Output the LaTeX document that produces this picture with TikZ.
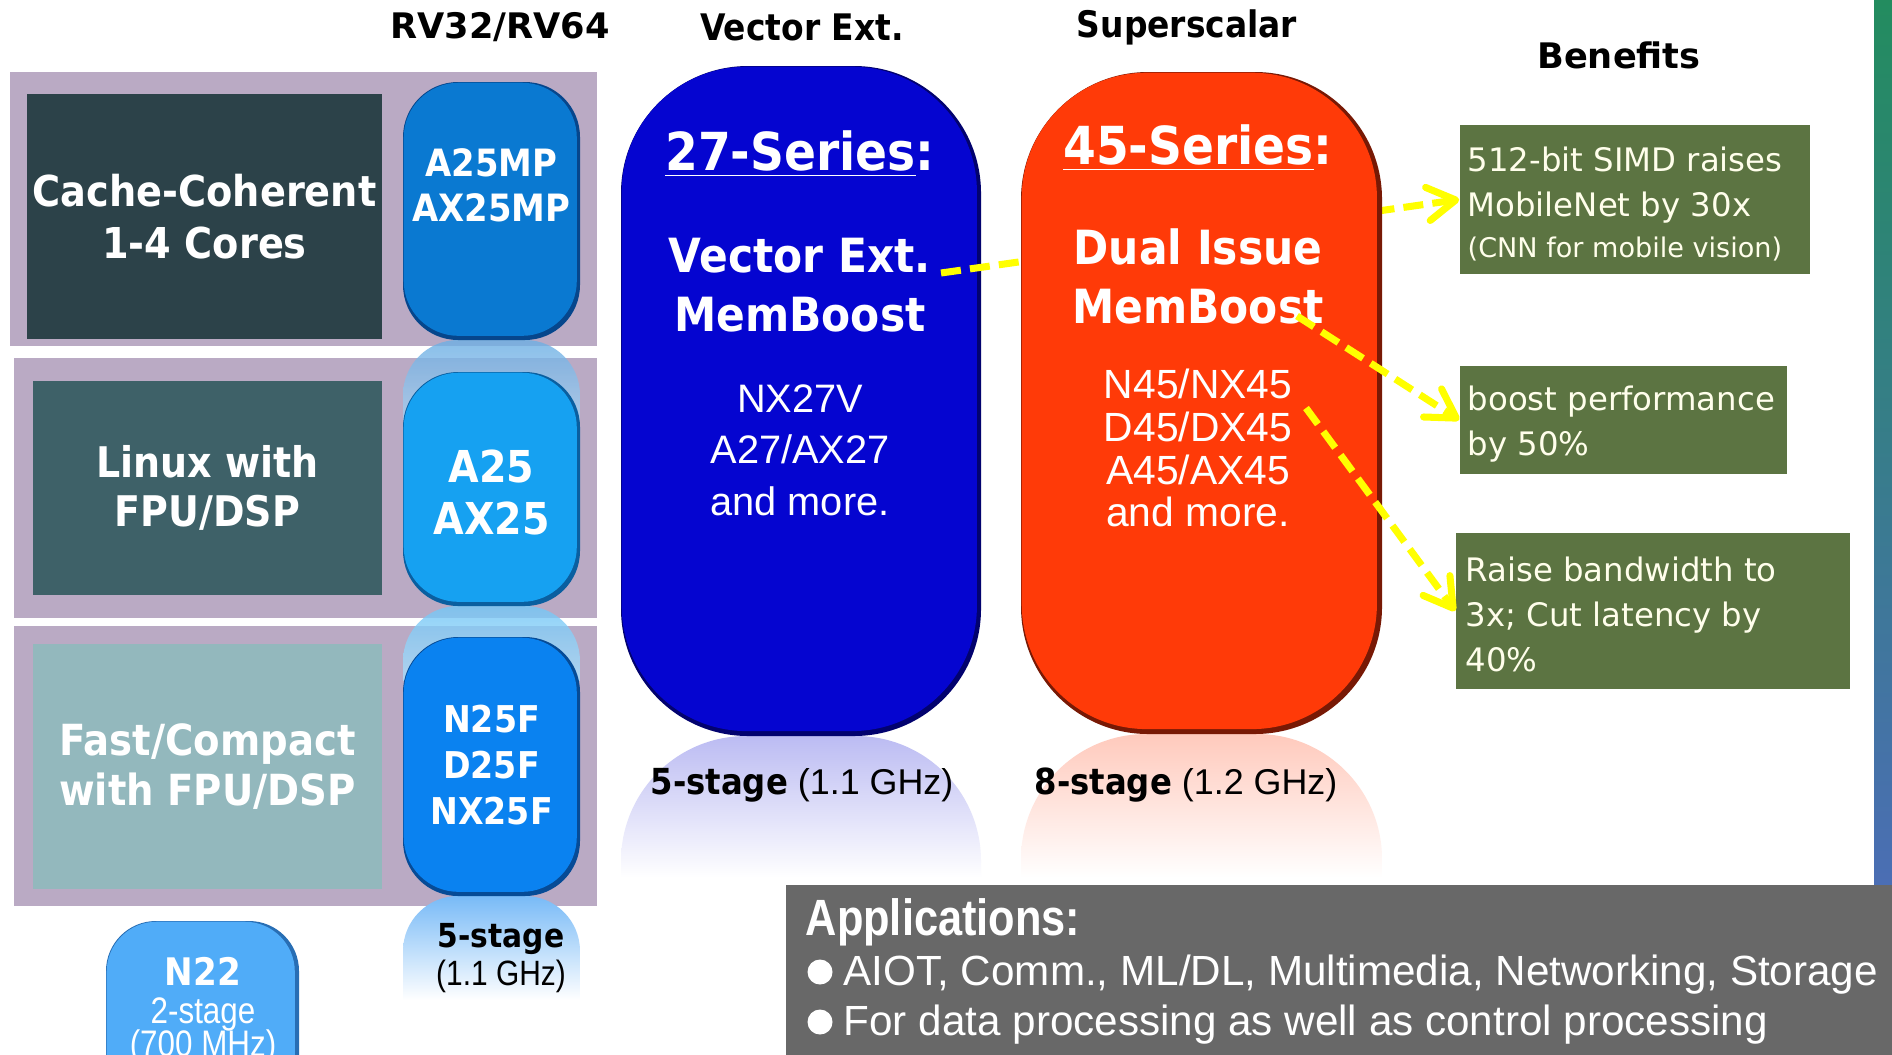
\documentclass[tikz,border=0pt]{standalone}
\usepackage{fontspec}
\setmainfont{Liberation Sans}
\newfontfamily\tah[FakeStretch=0.9]{DejaVu Sans}
\newfontfamily\verd{DejaVu Sans}
\newfontfamily\cnb[FakeStretch=0.85]{Liberation Sans}
\newfontfamily\cnr[FakeStretch=0.85]{Liberation Sans}
\usetikzlibrary{arrows.meta}
\definecolor{bandc}{RGB}{186,170,196}
\definecolor{boxa}{RGB}{44,66,73}
\definecolor{boxb}{RGB}{62,97,104}
\definecolor{boxc}{RGB}{147,184,189}
\definecolor{pilla}{RGB}{10,121,209}
\definecolor{pillad}{RGB}{6,70,140}
\definecolor{pillb}{RGB}{22,161,241}
\definecolor{pillbd}{RGB}{10,95,160}
\definecolor{pillc}{RGB}{10,130,240}
\definecolor{pillcd}{RGB}{6,75,150}
\definecolor{pilln}{RGB}{80,172,248}
\definecolor{pillnd}{RGB}{40,110,180}
\definecolor{vecb}{RGB}{5,5,208}
\definecolor{vecbd}{RGB}{2,2,110}
\definecolor{supo}{RGB}{255,58,8}
\definecolor{supod}{RGB}{120,25,5}
\definecolor{bengreen}{RGB}{92,116,66}
\definecolor{appgray}{RGB}{104,104,104}
\definecolor{yel}{RGB}{255,255,0}
\definecolor{bartop}{RGB}{35,140,95}
\definecolor{barmid}{RGB}{12,80,160}
\definecolor{barbot}{RGB}{75,110,180}
\begin{document}
\begin{tikzpicture}[x=0.01cm,y=-0.01cm,
  band/.style={fill=bandc},
  catbox/.style={text=white, align=center, inner sep=0pt, font=\tah\bfseries\fontsize{12}{14}\selectfont},
  smallpill/.style={rounded corners=0.55cm, inner sep=0pt, anchor=north west},
  pilltext/.style={text=white, align=center, inner sep=0pt, font=\tah\bfseries\fontsize{10.7}{12.8}\selectfont},
  bigpill/.style={rounded corners=1.25cm, inner sep=0pt, anchor=north west},
  bigtitle/.style={text=white, inner sep=0pt, font=\tah\bfseries\fontsize{14.9}{17}\selectfont},
  bigbold/.style={text=white, align=center, inner sep=0pt, font=\tah\bfseries\fontsize{13.4}{16.6}\selectfont},
  bigreg/.style={text=white, align=center, inner sep=0pt, font=\fontsize{11.3}{14.6}\selectfont},
  header/.style={inner sep=0pt, font=\verd\bfseries\fontsize{10}{12}\selectfont},
  cheader/.style={inner sep=0pt, font=\tah\bfseries\fontsize{10.4}{12}\selectfont},
  stage/.style={inner sep=0pt, text=black, font=\fontsize{10.2}{12}\selectfont},
  benbox/.style={fill=bengreen, inner sep=0pt},
  bentext/.style={text=white!92!yellow, align=left, anchor=west, inner sep=0pt, font=\verd\fontsize{9.2}{12.8}\selectfont},
  apptext/.style={anchor=west, inner sep=0pt, text=white, font=\fontsize{12}{14}\selectfont},
  appdot/.style={circle, fill=white, inner sep=0pt, minimum size=0.25cm},
  yarrow/.style={draw=yel, line width=2pt, dash pattern=on 5.7pt off 2.6pt, -{Straight Barb[length=8pt,width=9.5pt,round]}},
]
\useasboundingbox (0,0) rectangle (1892,1054);
\clip (0,0) rectangle (1892,1054);
\fill[white] (0,0) rectangle (1892,1054);

% headers
\node[header] (rv) at (500,27) {RV32/RV64};
\node[cheader] (vh) at (802,27) {Vector Ext.};
\node[cheader] (sh) at (1187,27) {Superscalar};
\node[header] (bh) at (1619,55) {Benefits};

% bands
\path[band] (10,72) rectangle (597,346);
\path[band] (14,358) rectangle (597,618);
\path[band] (14,626) rectangle (597,906);

% category boxes
\node[catbox, fill=boxa, minimum width=3.55cm, minimum height=2.45cm, font=\tah\bfseries\fontsize{12.1}{14.8}\selectfont] (cc) at (204.5,216.5) {Cache-Coherent\\1-4 Cores};
\node[catbox, fill=boxb, minimum width=3.49cm, minimum height=2.14cm] (lx) at (207.5,488) {Linux with\\FPU/DSP};
\node[catbox, fill=boxc, minimum width=3.49cm, minimum height=2.45cm, font=\tah\bfseries\fontsize{12.2}{14}\selectfont] (fc) at (207.5,766.5) {Fast/Compact\\with FPU/DSP};

% reflections of small pills
\begin{scope}
\clip[rounded corners=0.55cm] (403,340) rectangle (580,700);
\shade[top color=pilla!60!white, bottom color=pilla!35!white, opacity=0.8] (403,340) rectangle (580,420);
\end{scope}
\begin{scope}
\clip[rounded corners=0.55cm] (403,606) rectangle (580,900);
\shade[top color=pillb!60!white, bottom color=pillb!35!white, opacity=0.8] (403,606) rectangle (580,680);
\end{scope}
\begin{scope}
\clip[rounded corners=0.55cm] (403,896) rectangle (580,1200);
\shade[top color=pillc!55!white, bottom color=white] (403,896) rectangle (580,1000);
\end{scope}

% small pills
\fill[pillad, rounded corners=0.55cm] (403,82) rectangle (580,340);
\node[smallpill, fill=pilla, minimum width=1.73cm, minimum height=2.53cm] (p1) at (403,82) {};
\node[pilltext] (p1t) at (491.5,185) {A25MP\\AX25MP};

\fill[pillbd, rounded corners=0.55cm] (403,372) rectangle (580,606);
\node[smallpill, fill=pillb, minimum width=1.73cm, minimum height=2.29cm] (p2) at (403,372) {};
\node[pilltext, font=\tah\bfseries\fontsize{12.5}{15}\selectfont] (p2t) at (491.5,492.5) {A25\\AX25};

\fill[pillcd, rounded corners=0.55cm] (403,637) rectangle (580,896);
\node[smallpill, fill=pillc, minimum width=1.73cm, minimum height=2.54cm] (p3) at (403,637) {};
\node[pilltext, font=\tah\bfseries\fontsize{10.5}{13}\selectfont] (p3t) at (491.5,765) {N25F\\D25F\\NX25F};

\node[inner sep=0pt, font=\tah\bfseries\fontsize{9.4}{11}\selectfont] (st25) at (501,939) {5-stage};
\node[inner sep=0pt, font=\cnr\fontsize{10}{12}\selectfont] (st25b) at (501,976) {(1.1 GHz)};

% N22 pill
\fill[pillnd, rounded corners=0.5cm] (106,921) rectangle (299,1120);
\node[smallpill, rounded corners=0.5cm, fill=pilln, minimum width=1.88cm, minimum height=1.95cm] (n22) at (106,921) {};
\node[pilltext, font=\tah\bfseries\fontsize{10.8}{13}\selectfont] (n22t) at (203,971) {N22};
\node[inner sep=0pt, text=white, font=\cnr\fontsize{10.5}{12}\selectfont] (n22s) at (203,1014) {2-stage};
\node[inner sep=0pt, text=white, font=\cnr\fontsize{10.5}{12}\selectfont] (n22f) at (203,1047) {(700 MHz)};

% benefit boxes
\node[benbox, minimum width=3.5cm, minimum height=1.49cm] (b1) at (1635,199.5) {};
\node[bentext] (b1t) at (1467,204) {512-bit SIMD raises\\MobileNet by 30x\\[-1.2pt]{\fontsize{7.7}{9}\selectfont (CNN for mobile vision)}};
\node[benbox, minimum width=3.27cm, minimum height=1.08cm] (b2) at (1623.5,420) {};
\node[bentext] (b2t) at (1467,424) {boost performance\\by 50\%};
\node[benbox, minimum width=3.94cm, minimum height=1.56cm] (b3) at (1653,611) {};
\node[bentext] (b3t) at (1465,614) {Raise bandwidth to\\3x; Cut latency by\\40\%};

% big pill reflections
\begin{scope}
\clip[rounded corners=1.25cm] (621,736) rectangle (981,1200);
\shade[top color=vecb!27!white, bottom color=white] (621,736) rectangle (981,878);
\end{scope}
\begin{scope}
\clip[rounded corners=1.25cm] (1021,734) rectangle (1382,1200);
\shade[top color=supo!27!white, bottom color=white] (1021,734) rectangle (1382,878);
\end{scope}

% 27-series pill
\fill[vecbd, rounded corners=1.27cm] (621,66) rectangle (981,736);
\node[bigpill, fill=vecb, minimum width=3.55cm, minimum height=6.64cm] (v27) at (621,66) {};
\node[bigtitle] (v27t) at (800,154) {\underline{27-Series}:};
\node[bigbold] (v27b) at (800,285) {Vector Ext.\\MemBoost};
\node[bigreg] (v27r) at (800,450) {NX27V\\A27/AX27\\and more.};
\node[stage] (st27) at (802,785) {{\tah\bfseries 5-stage} (1.1 GHz)};

% first connector (passes behind the 45 pill)
\coordinate (s1) at (941,273);
\draw[yarrow] (s1) -- (b1.west);

% 45-series pill
\fill[supod, rounded corners=1.27cm] (1021,72) rectangle (1382,734);
\node[bigpill, fill=supo, minimum width=3.55cm, minimum height=6.56cm] (s45) at (1021,72) {};
\node[bigtitle] (s45t) at (1198,148) {\underline{45-Series}:};
\node[bigbold] (s45b) at (1198,276.5) {Dual Issue\\MemBoost};
\node[bigreg, font=\fontsize{11.6}{12.2}\selectfont] (s45r) at (1198,448) {N45/NX45\\D45/DX45\\A45/AX45\\and more.};
\node[stage] (st45) at (1186,785) {{\tah\bfseries 8-stage} (1.2 GHz)};

% other connectors
\coordinate (s2) at (1297,316);
\coordinate (s3) at (1306,408);
\draw[yarrow] (s2) -- (b2.west);
\draw[yarrow] (s3) -- (b3.west);

% right bar
\shade[top color=bartop, middle color=barmid, bottom color=barbot] (1874,0) rectangle (1892,884);

% applications
\node[fill=appgray, minimum width=11.1cm, minimum height=1.75cm, anchor=north west, inner sep=0pt] (app) at (785,884) {};
\node[anchor=west, inner sep=0pt, text=white, font=\cnb\bfseries\fontsize{14.5}{16}\selectfont] (apph) at (805,922) {Applications:};
\node[appdot] (d1) at (820,972) {};
\node[apptext] (app1) at (843,975) {AIOT, Comm., ML/DL, Multimedia, Networking, Storage};
\node[appdot] (d2) at (820,1022) {};
\node[apptext] (app2) at (843,1025) {For data processing as well as control processing};
\end{tikzpicture}
\end{document}
